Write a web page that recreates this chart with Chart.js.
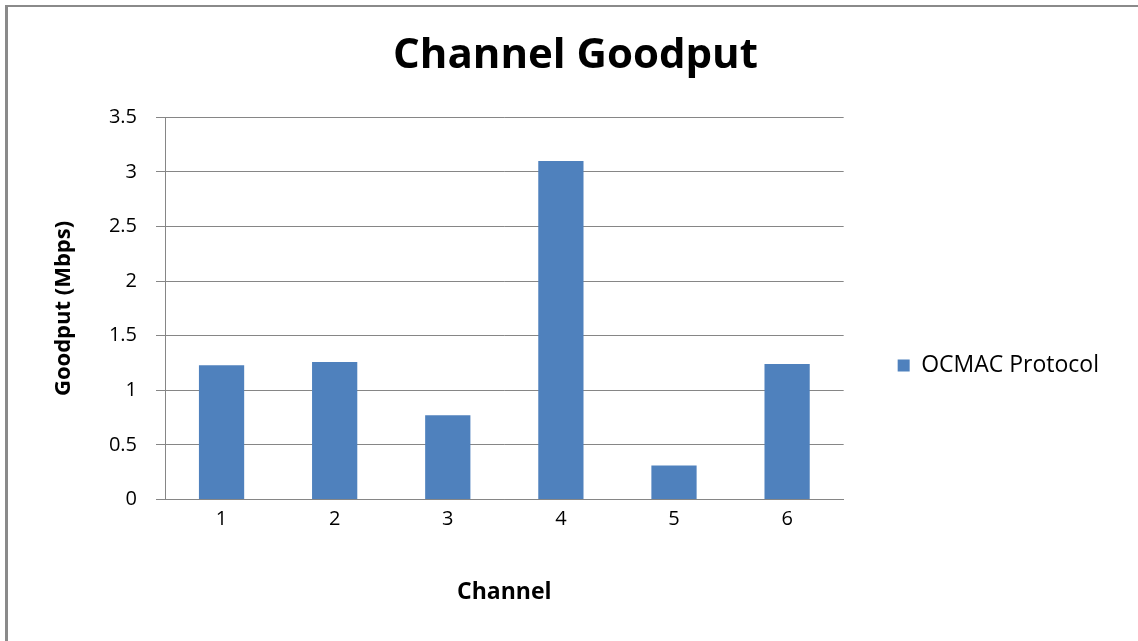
<!DOCTYPE html>
<html>
<head>
<meta charset="utf-8">
<title>Channel Goodput</title>
<script src="https://cdn.jsdelivr.net/npm/chart.js@4.4.0/dist/chart.umd.min.js"></script>
<style>
  body { margin: 0; background: #fff; overflow: hidden; }
  #frame {
    position: absolute; left: 5px; top: 5px; width: 1200px; height: 700px;
    border-left: 3px solid #8a8a8a; border-top: 2px solid #8a8a8a;
  }
  #wrap { position: absolute; left: 0; top: 0; width: 1138px; height: 641px; }
</style>
</head>
<body>
<div id="frame"></div>
<div id="wrap"><canvas id="goodputChart"></canvas></div>
<script>
// channel numbers and measured goodput (Mbps)
const channels = ["1", "2", "3", "4", "5", "6"];
const goodput = [1.23, 1.26, 0.77, 3.10, 0.31, 1.24];
const seriesName = "OCMAC Protocol";

const gridGrey = "#868686";
const fontFamily = "'Open Sans', sans-serif";

// push the legend down a bit so it sits near the middle of the frame
const legendShift = {
    id: "legendShift",
    afterLayout(chart) {
        const lg = chart.legend;
        if (lg) { lg.top += 45; lg.bottom += 45; }
    }
};

new Chart(document.getElementById("goodputChart"), {
    type: "bar",
    data: {
        labels: channels,
        datasets: [{
            label: seriesName,
            data: goodput,
            backgroundColor: "#4F81BD",
            borderWidth: 0,
            barPercentage: 0.4,
            categoryPercentage: 1
        }]
    },
    options: {
        responsive: true,
        maintainAspectRatio: false,
        animation: false,
        layout: { padding: { left: 42, right: 29, top: 0, bottom: 0 } },
        plugins: {
            title: {
                display: true,
                text: "Channel Goodput",
                color: "#000",
                font: { family: fontFamily, size: 42, weight: "bold" },
                padding: { top: 31, bottom: 36 }
            },
            legend: {
                position: "right",
                labels: {
                    color: "#000",
                    font: { family: fontFamily, size: 23 },
                    boxWidth: 12,
                    boxHeight: 12,
                    padding: 54
                }
            },
            tooltip: { enabled: false }
        },
        scales: {
            x: {
                grid: { display: false, drawTicks: false },
                border: { display: true, color: gridGrey, width: 1 },
                ticks: { color: "#000", padding: 8, font: { family: fontFamily, size: 20 } },
                title: {
                    display: true,
                    text: "Channel",
                    color: "#000",
                    font: { family: fontFamily, size: 23, weight: "bold" },
                    padding: { top: 39, bottom: 35 }
                }
            },
            y: {
                min: 0,
                max: 3.5,
                ticks: {
                    stepSize: 0.5,
                    color: "#000",
                    padding: 19,
                    font: { family: fontFamily, size: 20 },
                    callback: v => String(v)
                },
                grid: { color: gridGrey, lineWidth: 1, tickLength: 9 },
                border: { display: true, color: gridGrey, width: 1 },
                title: {
                    display: true,
                    text: "Goodput (Mbps)",
                    color: "#000",
                    font: { family: fontFamily, size: 22, weight: "bold" },
                    padding: { top: 9, bottom: 0 }
                },
                afterFit(scale) { scale.width = 123; }
            }
        }
    },
    plugins: [legendShift]
});
</script>
</body>
</html>
